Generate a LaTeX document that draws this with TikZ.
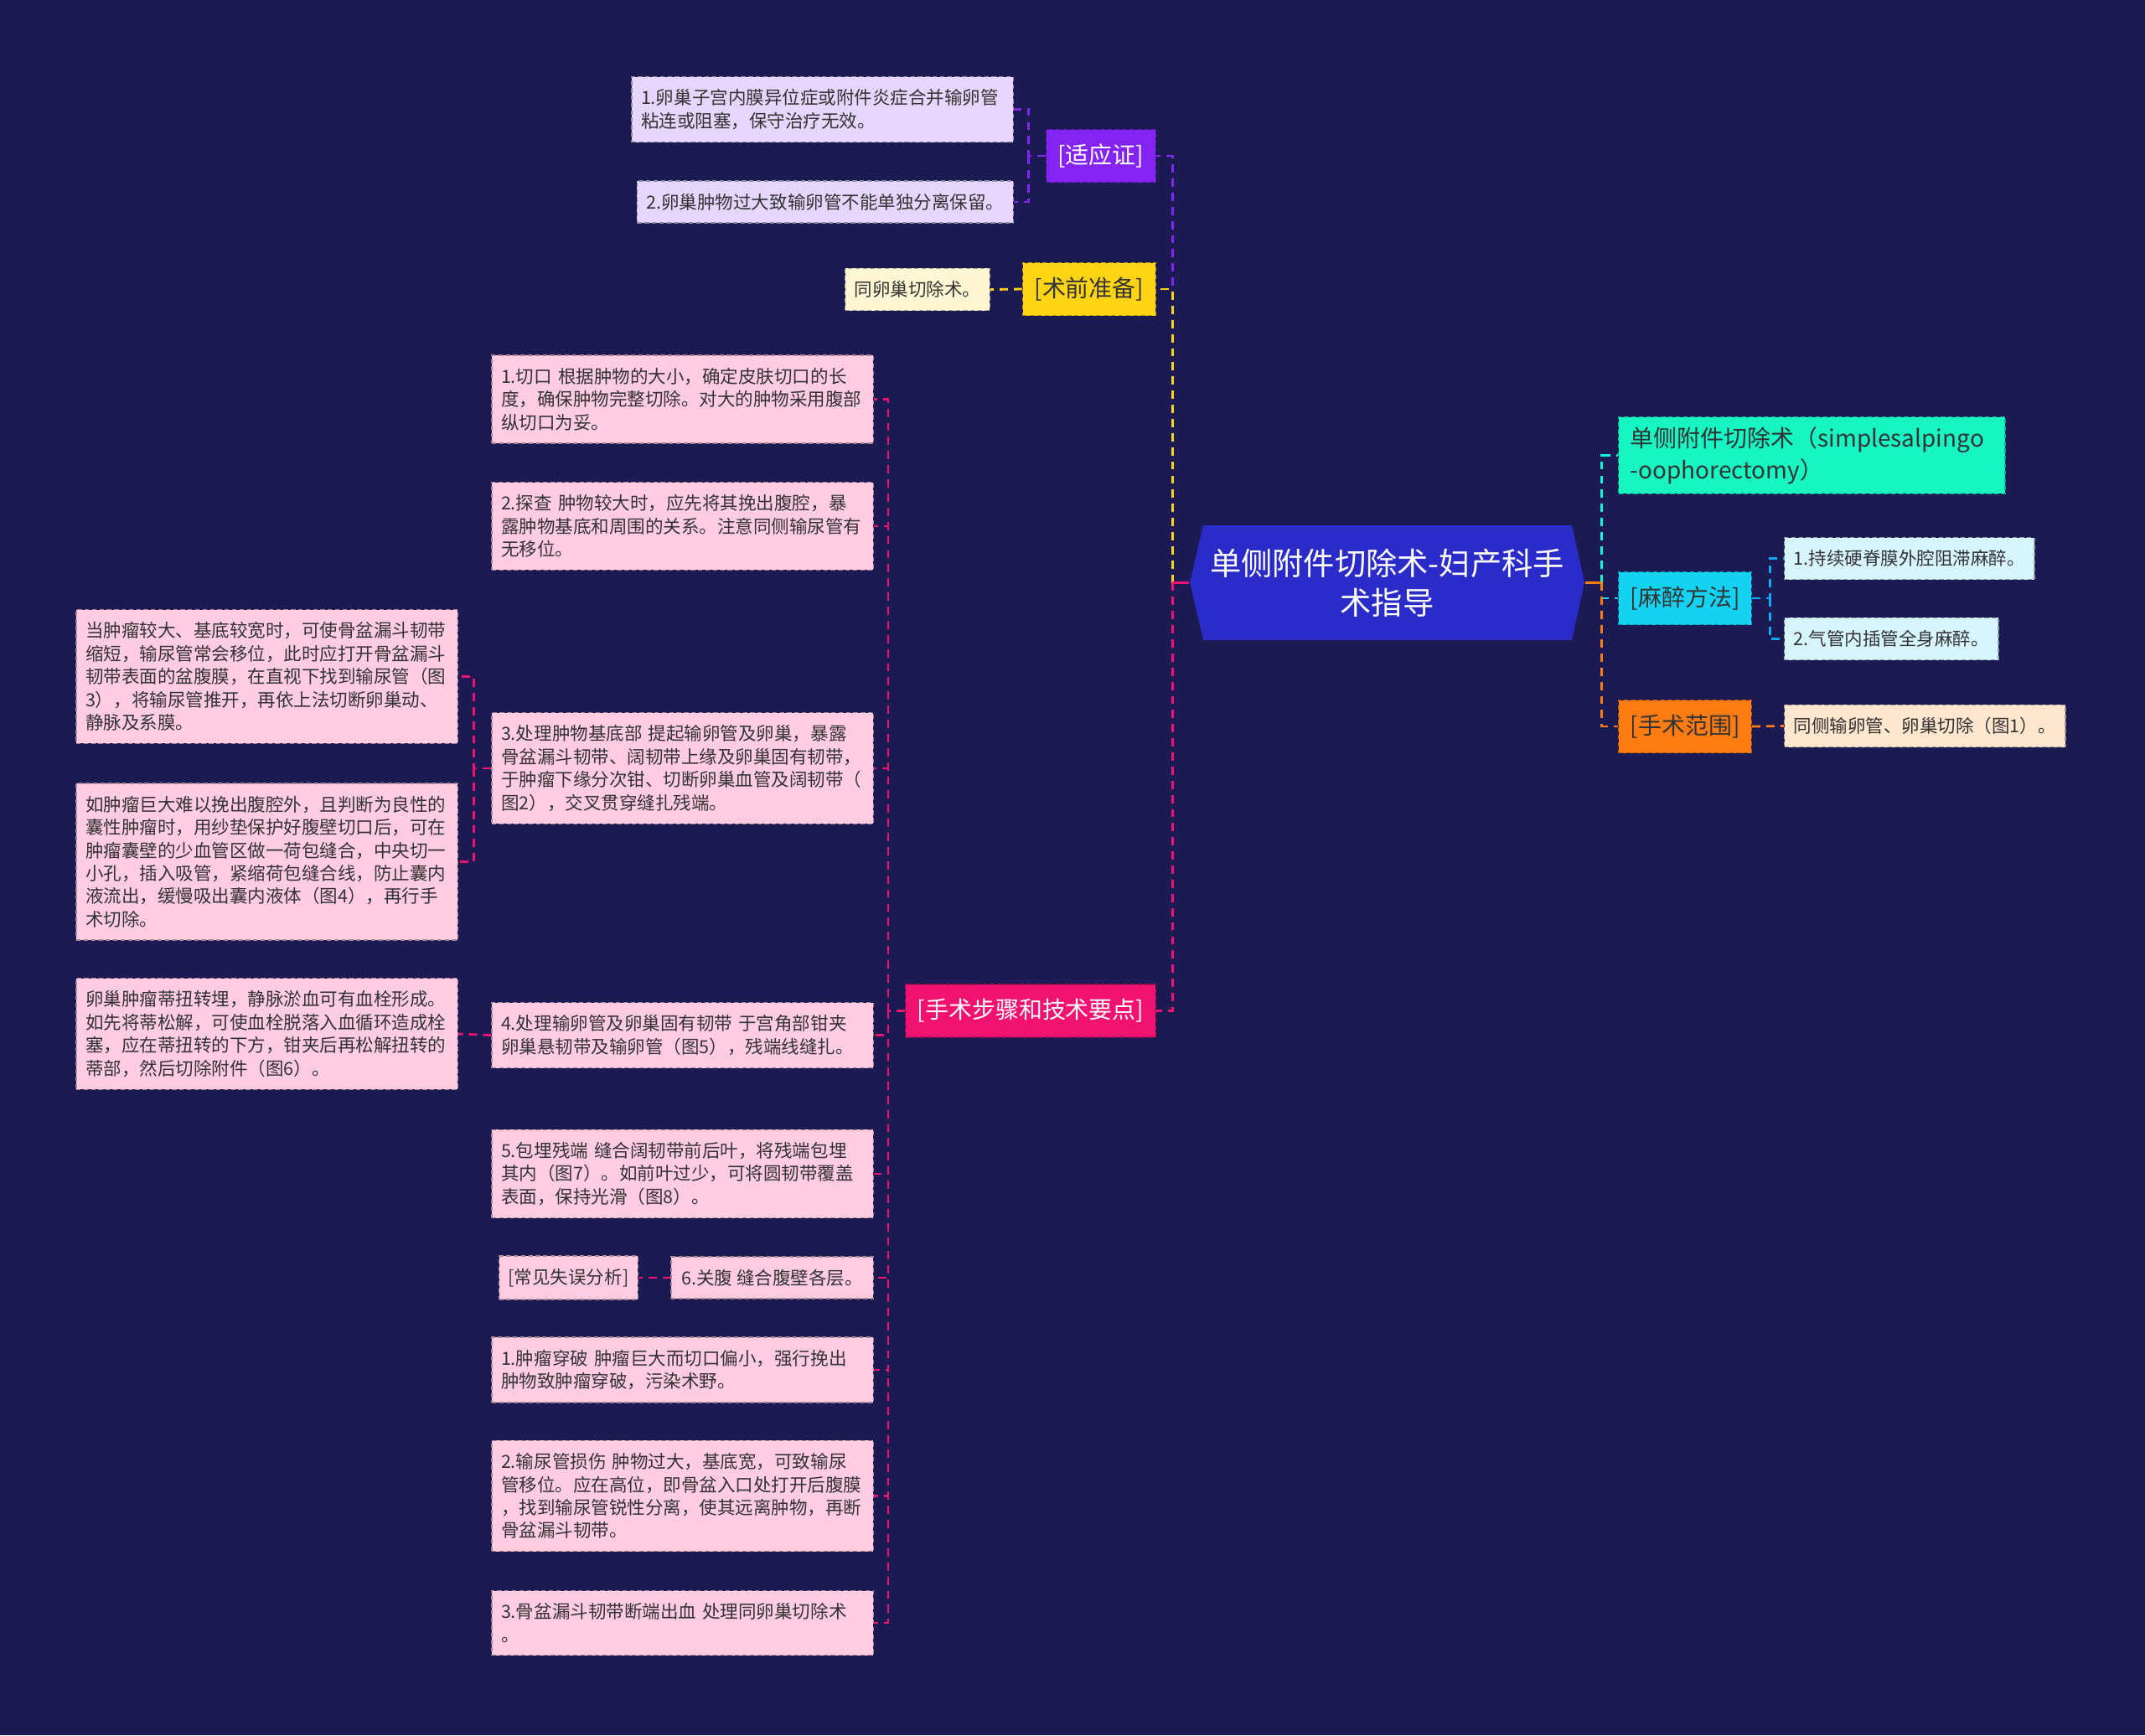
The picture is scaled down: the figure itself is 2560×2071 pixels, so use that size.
\documentclass[tikz,border=0pt]{standalone}
\usepackage{fontspec}
\setmainfont{Noto Sans CJK SC}
\usetikzlibrary{calc}
\definecolor{bgnavy}{HTML}{1C1A52}
\definecolor{rootblue}{HTML}{2B2BC9}
\definecolor{topicviolet}{HTML}{8424F2}
\definecolor{topicgold}{HTML}{FFD414}
\definecolor{topicrose}{HTML}{F2126F}
\definecolor{topicmint}{HTML}{17F5C3}
\definecolor{topiccyan}{HTML}{14D2F2}
\definecolor{topicorange}{HTML}{FF7C12}
\definecolor{leaflilac}{HTML}{E6D5FC}
\definecolor{leafcream}{HTML}{FFF7D4}
\definecolor{leafpink}{HTML}{FFCCE2}
\definecolor{leafice}{HTML}{D6F5FD}
\definecolor{leafpeach}{HTML}{FFE6CE}
\definecolor{inkgray}{HTML}{333333}
\newcommand{\leaffont}{\fontsize{6.12}{7.8}\selectfont}
\newcommand{\topicfont}{\fontsize{7.95}{10.7}\selectfont}
\newcommand{\rootfont}{\fontsize{10.6}{13.4}\selectfont}
\tikzset{
  topic/.style={rectangle, fill=#1, draw=#1!70!black, dash pattern=on 1.5pt off 1pt, line width=0.4pt,
    inner xsep=0.14cm, minimum height=0.63cm, font=\topicfont, text=inkgray, align=left},
  leaf/.style={rectangle, fill=#1, draw=#1!65!black, dash pattern=on 1.5pt off 1pt, line width=0.4pt,
    inner xsep=0.11cm, inner ysep=0.15cm, minimum height=0.49cm, align=left, text=inkgray, font=\leaffont},
  longleaf/.style={leaf=#1, text width=4.33cm},
  link/.style={dash pattern=on 2.8pt off 2pt, line width=0.8pt},
}
\begin{document}
\begin{tikzpicture}[x=0.01cm, y=-0.01cm]
  \useasboundingbox (0,0) rectangle (2560,2071);
  \fill[bgnavy] (0,0) rectangle (2560,2071);
  % central topic
  \fill[rootblue] (1420,695) -- (1436,627) -- (1876,627) -- (1891,695) -- (1876,764) -- (1436,764) -- cycle;
  \node[font=\rootfont, text=white, align=center, minimum width=4.71cm, minimum height=1.37cm] (root) at (1655.5,695.5) {单侧附件切除术-妇产科手\\术指导};
  % left topics
  \node[topic=topicviolet, text=white, anchor=east] (shiying) at (1380,186) {[适应证]};
  \node[topic=topicgold, anchor=east] (shuqian) at (1380,345) {[术前准备]};
  \node[topic=topicrose, text=white, anchor=east] (buzhou) at (1380,1206.5) {[手术步骤和技术要点]};
  % right topics
  \node[topic=topicmint, anchor=west, text width=4.33cm, text=black!80, inner xsep=0.14cm] (biaoti) at (1931,543.5) {单侧附件切除术（simplesalpingo\\-oophorectomy）};
  \node[topic=topiccyan, anchor=west] (mazui) at (1931,714) {[麻醉方法]};
  \node[topic=topicorange, anchor=west] (fanwei) at (1931,867) {[手术范围]};
  % indications
  \node[longleaf=leaflilac, anchor=east] (sy1) at (1210,130.5) {1.卵巢子宫内膜异位症或附件炎症合并输卵管\\粘连或阻塞，保守治疗无效。};
  \node[leaf=leaflilac, anchor=east] (sy2) at (1210,241) {2.卵巢肿物过大致输卵管不能单独分离保留。};
  \node[leaf=leafcream, anchor=east] (sq1) at (1182,345.5) {同卵巢切除术。};
  % steps
  \node[longleaf=leafpink, anchor=east] (step1) at (1043,476.5) {1.切口 根据肿物的大小，确定皮肤切口的长\\度，确保肿物完整切除。对大的肿物采用腹部\\纵切口为妥。};
  \node[longleaf=leafpink, anchor=east] (step2) at (1043,628) {2.探查 肿物较大时，应先将其挽出腹腔，暴\\露肿物基底和周围的关系。注意同侧输尿管有\\无移位。};
  \node[longleaf=leafpink, anchor=east] (step3) at (1043,917) {3.处理肿物基底部 提起输卵管及卵巢，暴露\\骨盆漏斗韧带、阔韧带上缘及卵巢固有韧带，\\于肿瘤下缘分次钳、切断卵巢血管及阔韧带（\\图2），交叉贯穿缝扎残端。};
  \node[longleaf=leafpink, anchor=east] (sub3a) at (547,807.5) {当肿瘤较大、基底较宽时，可使骨盆漏斗韧带\\缩短，输尿管常会移位，此时应打开骨盆漏斗\\韧带表面的盆腹膜，在直视下找到输尿管（图\\3），将输尿管推开，再依上法切断卵巢动、\\静脉及系膜。};
  \node[longleaf=leafpink, anchor=east] (sub3b) at (547,1028.5) {如肿瘤巨大难以挽出腹腔外，且判断为良性的\\囊性肿瘤时，用纱垫保护好腹壁切口后，可在\\肿瘤囊壁的少血管区做一荷包缝合，中央切一\\小孔，插入吸管，紧缩荷包缝合线，防止囊内\\液流出，缓慢吸出囊内液体（图4），再行手\\术切除。};
  \node[longleaf=leafpink, anchor=east] (step4) at (1043,1235.5) {4.处理输卵管及卵巢固有韧带 于宫角部钳夹\\卵巢悬韧带及输卵管（图5），残端线缝扎。};
  \node[longleaf=leafpink, anchor=east] (sub4) at (547,1234) {卵巢肿瘤蒂扭转埋，静脉淤血可有血栓形成。\\如先将蒂松解，可使血栓脱落入血循环造成栓\\塞，应在蒂扭转的下方，钳夹后再松解扭转的\\蒂部，然后切除附件（图6）。};
  \node[longleaf=leafpink, anchor=east] (step5) at (1043,1401) {5.包埋残端 缝合阔韧带前后叶，将残端包埋\\其内（图7）。如前叶过少，可将圆韧带覆盖\\表面，保持光滑（图8）。};
  \node[leaf=leafpink, anchor=east, minimum width=2.41cm] (step6) at (1043,1525) {6.关腹 缝合腹壁各层。};
  \node[leaf=leafpink, anchor=east] (wuchu) at (762,1525) {[常见失误分析]};
  \node[longleaf=leafpink, anchor=east] (err1) at (1043,1635) {1.肿瘤穿破 肿瘤巨大而切口偏小，强行挽出\\肿物致肿瘤穿破，污染术野。};
  \node[longleaf=leafpink, anchor=east] (err2) at (1043,1785.5) {2.输尿管损伤 肿物过大，基底宽，可致输尿\\管移位。应在高位，即骨盆入口处打开后腹膜\\，找到输尿管锐性分离，使其远离肿物，再断\\骨盆漏斗韧带。};
  \node[longleaf=leafpink, anchor=east] (err3) at (1043,1937) {3.骨盆漏斗韧带断端出血 处理同卵巢切除术\\。};
  % anaesthesia and extent
  \node[leaf=leafice, anchor=west] (mz1) at (2129,666.5) {1.持续硬脊膜外腔阻滞麻醉。};
  \node[leaf=leafice, anchor=west] (mz2) at (2129,762.5) {2.气管内插管全身麻醉。};
  \node[leaf=leafpeach, anchor=west] (fw1) at (2129,866.5) {同侧输卵管、卵巢切除（图1）。};
  % trunks
  \coordinate (lt) at ($(root.west)+(-20,0)$);
  \coordinate (rt) at ($(root.east)+(20,0)$);
  \draw[link, topicviolet] (lt) |- (shiying.east);
  \draw[link, topicgold] (lt) |- (shuqian.east);
  \draw[link, topicrose] (lt) |- (buzhou.east);
  \draw[topicrose, line width=0.8pt] (root.west) -- (lt);
  \draw[link, topicmint!80!cyan] (rt) |- (biaoti.west);
  \draw[link, topiccyan] (rt) |- (mazui.west);
  \draw[link, topicorange] (rt) |- (fanwei.west);
  \draw[topicorange, line width=0.8pt] (root.east) -- (rt);
  % indication links
  \coordinate (sy) at ($(shiying.west)+(-20,0)$);
  \draw[link, topicviolet] (shiying.west) -- (sy) |- (sy1.east);
  \draw[link, topicviolet] (sy) |- (sy2.east);
  \draw[link, topicgold] (shuqian.west) -- (sq1.east);
  % step links
  \coordinate (bz) at ($(buzhou.west)+(-20,0)$);
  \draw[link, topicrose] (buzhou.west) -- (bz);
  \foreach \n in {step1,step2,step3,step4,step5,step6,err1,err2,err3}
    \draw[link, topicrose] (bz) |- (\n.east);
  \coordinate (s3) at ($(step3.west)+(-21,0)$);
  \draw[link, topicrose] (step3.west) -- (s3) |- (sub3a.east);
  \draw[link, topicrose] (s3) |- (sub3b.east);
  \draw[link, topicrose] (step4.west) -- (sub4.east);
  \draw[link, topicrose] (step6.west) -- (wuchu.east);
  % right links
  \coordinate (mz) at ($(mazui.east)+(21,0)$);
  \draw[link, topiccyan!80!blue] (mazui.east) -- (mz) |- (mz1.west);
  \draw[link, topiccyan!80!blue] (mz) |- (mz2.west);
  \draw[link, topicorange] (fanwei.east) -- (fw1.west);
\end{tikzpicture}
\end{document}
